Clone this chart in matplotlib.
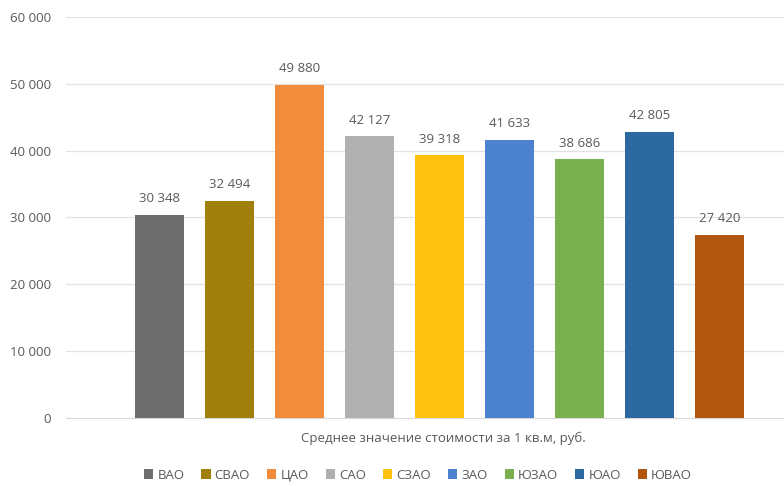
import matplotlib
matplotlib.use("Agg")
import matplotlib.pyplot as plt
from matplotlib.patches import Patch

districts = ["ВАО", "СВАО", "ЦАО", "САО", "СЗАО", "ЗАО", "ЮЗАО", "ЮАО", "ЮВАО"]
values = [30348, 32494, 49880, 42127, 39318, 41633, 38686, 42805, 27420]
colors = ["#6e6e6e", "#a07f0a", "#f08c3c", "#b0b0b0", "#ffc20e",
          "#4d82d0", "#7ab04f", "#2b69a0", "#b0560e"]
yticks = [0, 10000, 20000, 30000, 40000, 50000, 60000]
xlabel = "Среднее значение стоимости за 1 кв.м, руб."

plt.rcParams['font.family'] = ['Open Sans', 'DejaVu Sans']
txt = "#595959"

W, H = 784, 486
fig = plt.figure(figsize=(W / 100, H / 100), dpi=100)
left_px, right_px, top_px, bot_px = 66, 784, 17, 418
ax = fig.add_axes([left_px / W, (H - bot_px) / H, (right_px - left_px) / W, (bot_px - top_px) / H])

step_px = 70.0
first_center = 160.0
xs = list(range(len(values)))
ax.bar(xs, values, width=49 / step_px, color=colors, zorder=3)
ax.set_xlim((left_px - first_center) / step_px, (right_px - first_center) / step_px)
ax.set_ylim(0, 60000)

for x, v in zip(xs, values):
    ax.annotate(f"{v:,}".replace(",", " "), (x, v), xytext=(0, 7), textcoords="offset points",
                ha="center", va="bottom", fontsize=9.5, color=txt)

ax.set_yticks(yticks)
ax.set_yticklabels([f"{t:,}".replace(",", " ") for t in yticks], fontsize=9.5, color=txt)
ax.tick_params(axis="y", length=0, pad=11)
ax.set_xticks([])
ax.grid(axis="y", color="#e2e2e2", linewidth=0.9, zorder=0)
for s in ["left", "right", "top"]:
    ax.spines[s].set_visible(False)
ax.spines["bottom"].set_color("#d9d9d9")

fig.text(443 / W, 1 - 438 / H, xlabel, ha="center", va="center", fontsize=9.5, color=txt)

handles = [Patch(facecolor=c, edgecolor="none") for c in colors]
fig.legend(handles, districts, loc="center", bbox_to_anchor=(418 / W, 1 - 475 / H),
           ncol=len(districts), frameon=False, fontsize=9.5, labelcolor=txt,
           handlelength=0.7, handleheight=0.7, handletextpad=0.3, columnspacing=1.3)

fig.savefig("out.png", dpi=100, facecolor="white")
